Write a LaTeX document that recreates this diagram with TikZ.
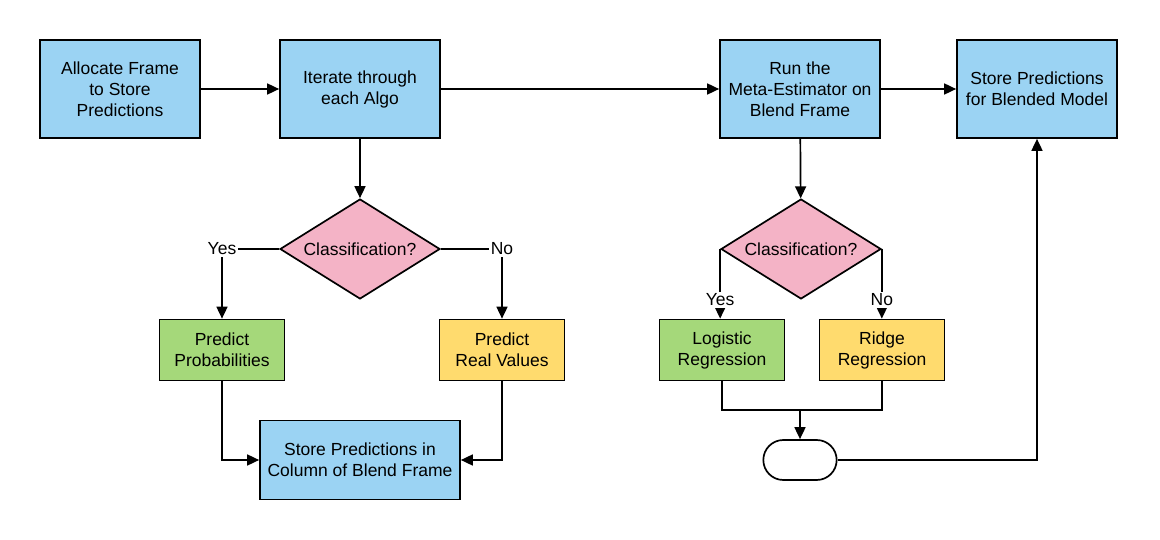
\documentclass[tikz,border=0pt]{standalone}
\usepackage{fontspec}
\setmainfont{Liberation Sans}
\usepackage{tikz}
\usetikzlibrary{positioning,arrows.meta,calc,shapes.geometric,shapes.misc}
\definecolor{ink}{HTML}{000000}
\definecolor{skyfill}{HTML}{9BD3F3}
\definecolor{pinkfill}{HTML}{F4B3C6}
\definecolor{leaf}{HTML}{A5D87A}
\definecolor{gold}{HTML}{FFDB6E}
\tikzset{
  arr/.style={-{Triangle[length=12pt,width=11pt]}, line width=1.7pt, color=ink},
  wire/.style={line width=1.7pt, color=ink},
  proc/.style={rectangle, draw=ink, fill=#1, line width=1.7pt, align=center,
    font=\fontsize{17.5}{21}\selectfont, inner sep=2pt},
  proc/.default=skyfill,
  bigbox/.style={proc=skyfill, minimum width=160pt, minimum height=98pt},
  smallbox/.style={proc=#1, minimum width=125pt, minimum height=61pt},
  ask/.style={diamond, draw=ink, fill=pinkfill, line width=1.7pt, aspect=1.6,
    minimum width=160pt, minimum height=100pt, inner sep=0pt,
    font=\fontsize{17.5}{21}\selectfont},
  term/.style={rounded rectangle, draw=ink, fill=white, line width=1.7pt,
    minimum width=80pt, minimum height=40pt},
  lbl/.style={fill=white, inner sep=2pt, font=\fontsize{17.5}{21}\selectfont},
}

\begin{document}
\begin{tikzpicture}[x=1pt,y=-1pt]
  \path[use as bounding box] (0,0) rectangle (1160,540);

  % top row
  \node[bigbox] (alloc) at (120,89) {Allocate Frame\\to Store\\Predictions};
  \node[bigbox] (iter) at (360,89) {Iterate through\\each Algo};
  \node[bigbox] (meta) at (800,89) {Run the\\Meta-Estimator on\\Blend Frame};
  \node[bigbox] (blend) at (1037,89) {Store Predictions\\for Blended Model};

  % left branch
  \node[ask] (cls) at (360,249) {Classification?};
  \node[smallbox=leaf] (prob) at (222,350) {Predict\\Probabilities};
  \node[smallbox=gold] (real) at (502,350) {Predict\\Real Values};
  \node[proc, minimum width=200pt, minimum height=79pt] (col) at (360,460)
    {Store Predictions in\\Column of Blend Frame};

  % right branch
  \node[ask] (mcls) at (801,249) {Classification?};
  \node[smallbox=leaf] (logit) at (722,350) {Logistic\\Regression};
  \node[smallbox=gold] (ridge) at (882,350) {Ridge\\Regression};
  \coordinate (mrg) at (800,410);
  \node[term] (done) at (800,460) {};

  \draw[arr] (alloc) -- (iter);
  \draw[arr] (iter) -- (meta);
  \draw[arr] (meta) -- (blend);
  \draw[arr] (iter) -- (cls);
  \draw[arr] (cls.west) -| node[lbl,pos=0.5] {Yes} (prob.north);
  \draw[arr] (cls.east) -| node[lbl,pos=0.5] {No} (real.north);
  \draw[arr] (prob.south) |- (col.west);
  \draw[arr] (real.south) |- (col.east);

  \draw[arr] (meta) -- (mcls);
  \draw[arr] (mcls.west) -- node[lbl,pos=0.73] {Yes} (mcls.west |- logit.north);
  \draw[arr] (mcls.east) -- node[lbl,pos=0.73] {No} (mcls.east |- ridge.north);
  \draw[wire] (logit.south) |- (mrg) -| (ridge.south);
  \draw[arr] (mrg) -- (done);
  \draw[arr] (done.east) -| (blend.south);
\end{tikzpicture}
\end{document}
